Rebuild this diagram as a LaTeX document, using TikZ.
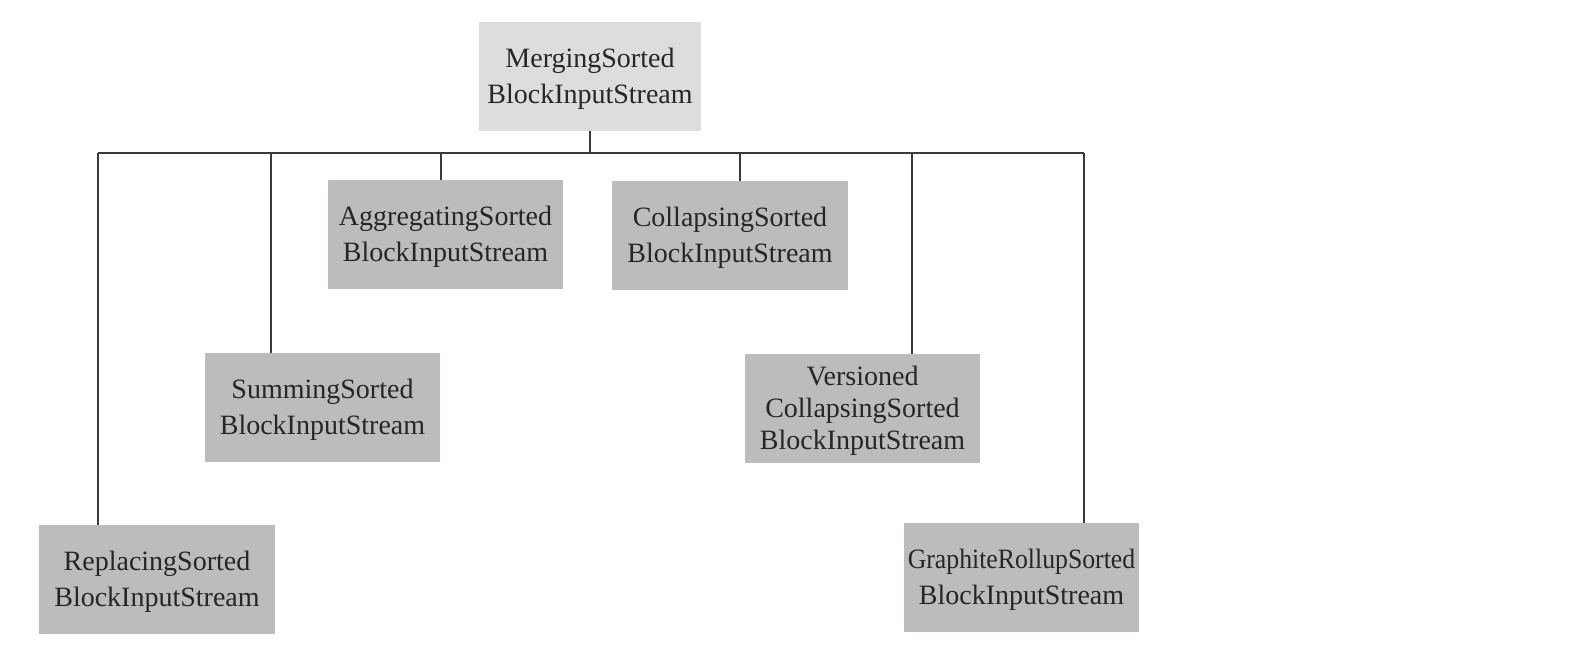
\documentclass[tikz,border=0pt]{standalone}
\usepackage{fontspec}
\setmainfont{Liberation Serif}
\usepackage{graphicx}
\definecolor{topfill}{HTML}{DEDDDD}
\definecolor{boxfill}{HTML}{BDBBBC}
\definecolor{linec}{HTML}{3A3A3A}
\newcommand\myTopStrut{\rule{0pt}{24.6pt}}
\begin{document}
\begin{tikzpicture}[x=1pt,y=-1pt,
  box/.style={fill=boxfill, inner sep=0pt, minimum width=235, minimum height=109, align=center,
    font=\fontsize{28}{36}\selectfont, text=black!85},
  conn/.style={draw=linec, line width=1.6pt}]
\useasboundingbox (0,0) rectangle (1571,654);
\node[box, fill=topfill, minimum width=222] (merge) at (590,76.5) {\myTopStrut MergingSorted\\BlockInputStream};
\node[box] (agg) at (445.5,234.5) {\myTopStrut AggregatingSorted\\BlockInputStream};
\node[box, minimum width=236] (coll) at (730,235.5) {\myTopStrut CollapsingSorted\\BlockInputStream};
\node[box] (sum) at (322.5,407.5) {\myTopStrut SummingSorted\\BlockInputStream};
\node[box, font=\fontsize{28}{32}\selectfont] (vers) at (862.5,408.5) {\myTopStrut Versioned\\CollapsingSorted\\BlockInputStream};
\node[box, minimum width=236] (rep) at (157,579.5) {\myTopStrut ReplacingSorted\\BlockInputStream};
\node[box] (graph) at (1021.5,577.5) {\myTopStrut\scalebox{0.92}[1]{GraphiteRollupSorted}\\BlockInputStream};
\coordinate (busL) at (98,153);
\coordinate (busR) at (1084,153);
\draw[conn] (busL) -- (busR);
\draw[conn] (merge.south) -- (merge.south |- busL);
\draw[conn] ([xshift=-59]rep.north) -- ([xshift=-59]rep.north |- busL);
\draw[conn] ([xshift=-51.5]sum.north) -- ([xshift=-51.5]sum.north |- busL);
\draw[conn] ([xshift=-4.5]agg.north) -- ([xshift=-4.5]agg.north |- busL);
\draw[conn] ([xshift=10]coll.north) -- ([xshift=10]coll.north |- busL);
\draw[conn] ([xshift=49.5]vers.north) -- ([xshift=49.5]vers.north |- busL);
\draw[conn] ([xshift=62.5]graph.north) -- ([xshift=62.5]graph.north |- busL);
\end{tikzpicture}
\end{document}
